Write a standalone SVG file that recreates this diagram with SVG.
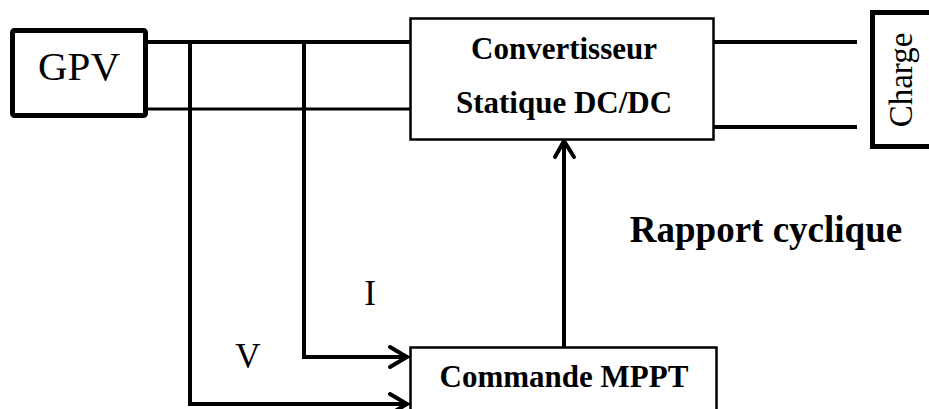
<svg xmlns="http://www.w3.org/2000/svg" width="929" height="409" viewBox="0 0 929 409">
  <style>
    .wire { fill: none; stroke: #000; stroke-width: 4; stroke-linejoin: miter; }
    .thin { fill: none; stroke: #000; stroke-width: 3; }
    .head { fill: none; stroke: #000; stroke-width: 4; stroke-linecap: round; stroke-linejoin: miter; }
    .box { fill: #fff; stroke: #000; stroke-width: 2.5; }
    .heavy { fill: #fff; stroke: #000; stroke-width: 5; }
    .serif { font-family: "Liberation Serif", "Times New Roman", serif; fill: #000; }
    .bold { font-weight: bold; }
  </style>

  <rect width="929" height="409" fill="#fff"/>

  <g id="connectors">
    <!-- PV bus to the converter -->
    <line class="wire" x1="146" y1="42" x2="411" y2="42"/>
    <line class="thin" x1="146" y1="109" x2="411" y2="109"/>
    <!-- converter output to the load -->
    <line class="wire" x1="713" y1="42" x2="857" y2="42"/>
    <line class="wire" x1="713" y1="127" x2="857" y2="127"/>
    <!-- current sense -->
    <polyline class="wire" points="304,42 304,357 407,357"/>
    <polyline class="head" points="390,347 407,357 390,367"/>
    <!-- voltage sense -->
    <polyline class="wire" points="190,42 190,404 407,404"/>
    <polyline class="head" points="390,394 407,404 390,414"/>
    <!-- duty cycle command -->
    <line class="wire" x1="564" y1="347" x2="564" y2="141"/>
    <polyline class="head" points="555,157 564,141 574,157"/>
  </g>

  <g id="gpv">
    <rect class="heavy" x="12.5" y="30.5" width="133" height="85" rx="2"/>
    <text class="serif" x="79" y="80" font-size="41" text-anchor="middle">GPV</text>
  </g>

  <g id="convertisseur">
    <rect class="box" x="410.5" y="18.5" width="303" height="121"/>
    <text class="serif bold" x="564" y="59" font-size="31" text-anchor="middle">Convertisseur</text>
    <text class="serif bold" x="564" y="113" font-size="31" text-anchor="middle">Statique DC/DC</text>
  </g>

  <g id="charge">
    <rect class="heavy" x="872.5" y="12.5" width="70" height="134"/>
    <text class="serif" transform="translate(912 80) rotate(-90)" font-size="33" text-anchor="middle">Charge</text>
  </g>

  <g id="commande">
    <rect class="box" x="410.5" y="347.5" width="306" height="80"/>
    <text class="serif bold" x="564" y="387" font-size="31" text-anchor="middle">Commande MPPT</text>
  </g>

  <g id="labels">
    <text class="serif bold" x="766" y="242" font-size="37" text-anchor="middle">Rapport cyclique</text>
    <text class="serif" x="370" y="305" font-size="35" text-anchor="middle">I</text>
    <text class="serif" x="248" y="368" font-size="35" text-anchor="middle">V</text>
  </g>
</svg>
